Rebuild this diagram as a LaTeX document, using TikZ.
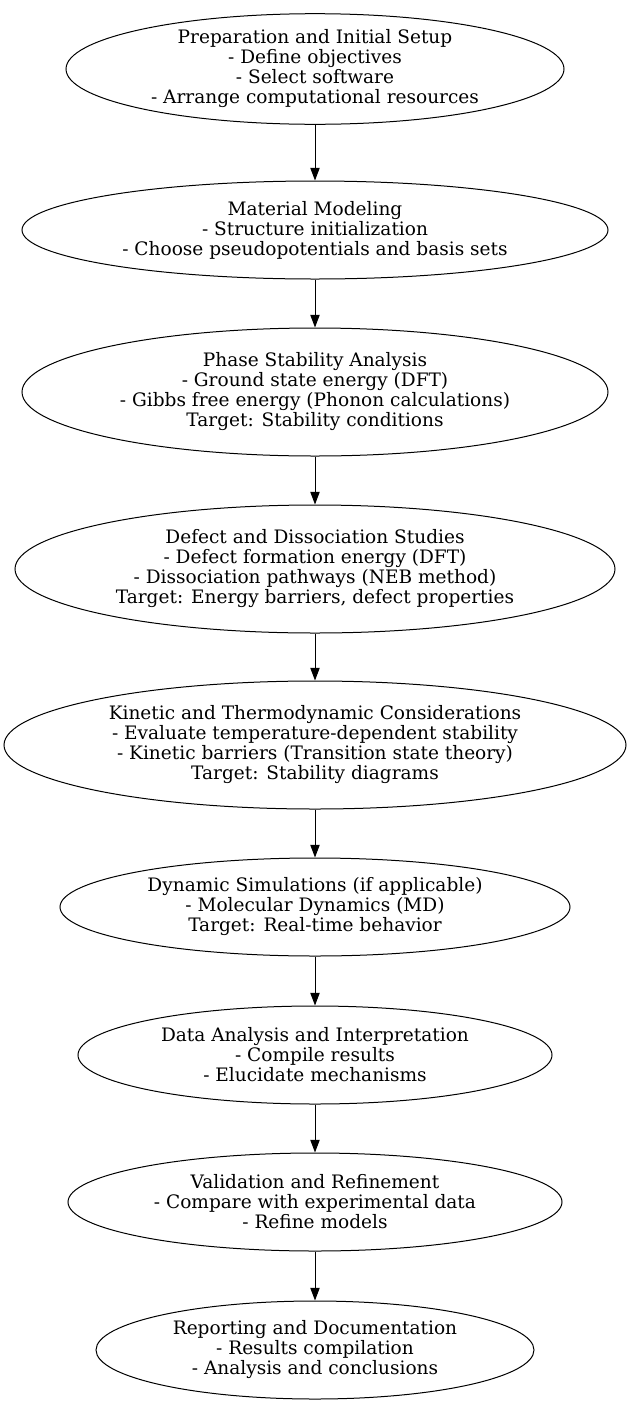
\documentclass[tikz,border=0pt]{standalone}
\usepackage{fontspec}
\setmainfont{DejaVu Serif}
\usepackage{tikz}
\usetikzlibrary{arrows.meta,shapes.geometric}

\begin{document}
\begin{tikzpicture}[x=0.75pt, y=-0.75pt,
  stage/.style 2 args={ellipse, draw, line width=0.75pt, inner sep=0pt, align=center,
    font=\fontsize{13.9}{15}\selectfont, minimum width=#1*0.75pt, minimum height=#2*0.75pt},
  flow/.style={line width=0.75pt, -{Triangle[length=9.5pt, width=7pt]}}]
\useasboundingbox (0,0) rectangle (631,1407);
% ---------------- stages ----------------
\node[stage={498}{104}] (prep) at (315,69)
  {Preparation and Initial Setup\\- Define objectives\\- Select software\\- Arrange computational resources};
\node[stage={586}{98}] (model) at (315,230)
  {Material Modeling\\- Structure initialization\\- Choose pseudopotentials and basis sets};
\node[stage={586}{128}] (phase) at (315,392)
  {Phase Stability Analysis\\- Ground state energy (DFT)\\- Gibbs free energy (Phonon calculations)\\Target: Stability conditions};
\node[stage={600}{128}] (defect) at (315,569)
  {Defect and Dissociation Studies\\- Defect formation energy (DFT)\\- Dissociation pathways (NEB method)\\Target: Energy barriers, defect properties};
\node[stage={622}{128}] (kinetic) at (315,745)
  {Kinetic and Thermodynamic Considerations\\- Evaluate temperature-dependent stability\\- Kinetic barriers (Transition state theory)\\Target: Stability diagrams};
\node[stage={510}{98}] (dyn) at (315,907)
  {Dynamic Simulations (if applicable)\\- Molecular Dynamics (MD)\\Target: Real-time behavior};
\node[stage={474}{98}] (data) at (315,1055)
  {Data Analysis and Interpretation\\- Compile results\\- Elucidate mechanisms};
\node[stage={494}{98}] (valid) at (315,1202)
  {Validation and Refinement\\- Compare with experimental data\\- Refine models};
\node[stage={438}{98}] (report) at (315,1350)
  {Reporting and Documentation\\- Results compilation\\- Analysis and conclusions};
% ---------------- connectors ----------------
\draw[flow] (prep) -- (model);
\draw[flow] (model) -- (phase);
\draw[flow] (phase) -- (defect);
\draw[flow] (defect) -- (kinetic);
\draw[flow] (kinetic) -- (dyn);
\draw[flow] (dyn) -- (data);
\draw[flow] (data) -- (valid);
\draw[flow] (valid) -- (report);
\end{tikzpicture}
\end{document}
